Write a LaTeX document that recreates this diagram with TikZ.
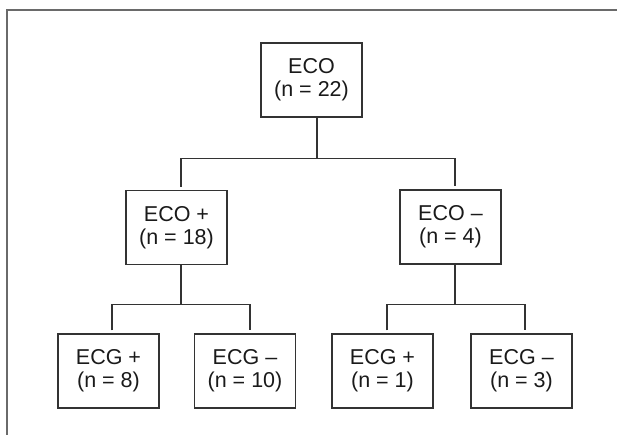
\documentclass[tikz,border=0pt]{standalone}
\usepackage{fontspec}
\setmainfont{Liberation Sans}
\usetikzlibrary{calc}
\definecolor{txt}{HTML}{1A1A1A}
\definecolor{ln}{HTML}{333333}
\definecolor{fr}{HTML}{6A6A6A}
\begin{document}
\begin{tikzpicture}[x=1pt,y=-1pt,
  box/.style={draw=ln, line width=1.2pt, minimum width=101pt, minimum height=74pt,
    inner sep=0pt, align=center, text=txt, font=\fontsize{21.5}{23}\selectfont},
  conn/.style={draw=ln, line width=1.2pt}]
\useasboundingbox (0,0) rectangle (617,435);
\draw[fr, line width=1.3pt] (7,435) -- (7,10) -- (617,10);
% nodes
\node[box] (root) at (311.5,80) {ECO\\(n = 22)};
\node[box] (ecop) at (176.5,227.5) {ECO +\\(n = 18)};
\node[box] (ecom) at (450.5,227) {ECO –\\(n = 4)};
\node[box] (g1) at (108.5,371) {ECG +\\(n = 8)};
\node[box] (g2) at (245,371) {ECG –\\(n = 10)};
\node[box] (g3) at (382.5,371) {ECG +\\(n = 1)};
\node[box] (g4) at (521.5,371) {ECG –\\(n = 3)};
% connectors
\coordinate (rj) at ($(root.south)+(5.5,41)$);
\draw[conn] ($(root.south)+(5.5,0)$) -- (rj);
\draw[conn] ($(ecop.north)+(4.5,-3)$) |- (rj) -| ($(ecom.north)+(4.5,-3)$);
\coordinate (lj) at ($(ecop.south)+(4.5,39)$);
\draw[conn] ($(ecop.south)+(4.5,0)$) -- (lj);
\draw[conn] ($(g1.north)+(3.5,-3)$) |- (lj) -| ($(g2.north)+(5,-3)$);
\coordinate (mj) at ($(ecom.south)+(4.5,39.5)$);
\draw[conn] ($(ecom.south)+(4.5,0)$) -- (mj);
\draw[conn] ($(g3.north)+(4.5,-3)$) |- (mj) -| ($(g4.north)+(3.5,-3)$);
\end{tikzpicture}
\end{document}
